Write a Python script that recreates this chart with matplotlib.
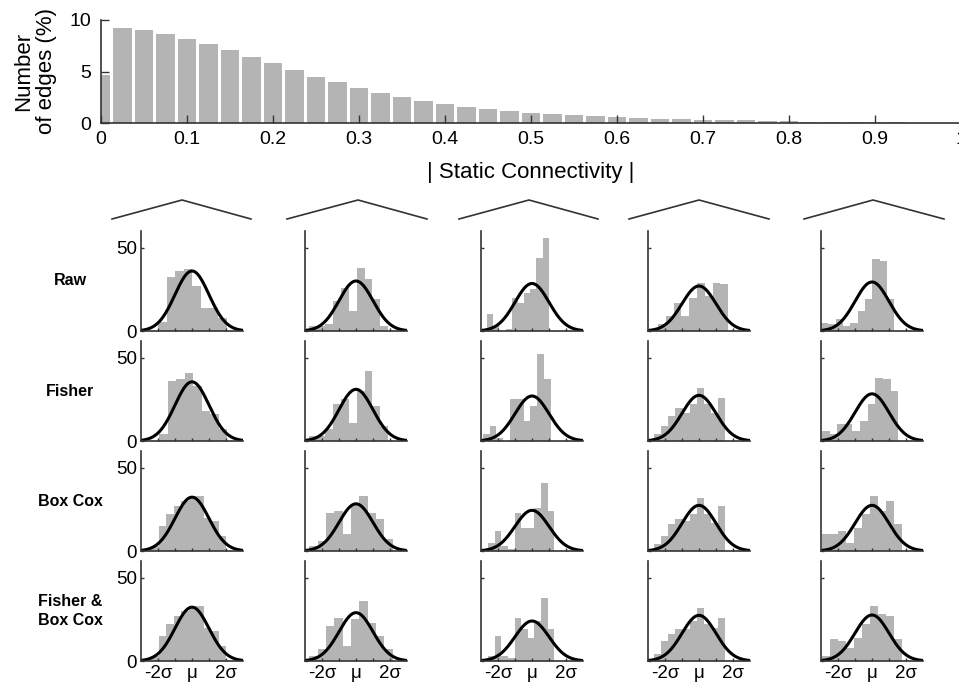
import numpy as np
import matplotlib
matplotlib.use('Agg')
import matplotlib.pyplot as plt

plt.rcParams['font.family'] = ['Liberation Sans', 'DejaVu Sans']

# ---- top panel: distribution of |static connectivity| (bins of 0.025)
conn_centers = np.round(np.arange(0, 1.0001, 0.025), 3)
conn_pct = [4.7, 9.2, 9.0, 8.65, 8.15, 7.65, 7.1, 6.4, 5.8, 5.15, 4.5, 3.95, 3.4,
            2.95, 2.55, 2.15, 1.85, 1.6, 1.35, 1.15, 1.0, 0.85, 0.75, 0.65, 0.58,
            0.48, 0.42, 0.38, 0.3, 0.26, 0.25, 0.19, 0.16, 0.13, 0.1, 0.08, 0.06,
            0.05, 0.04, 0.03, 0.02]
conn_ticks = [0, 0.1, 0.2, 0.3, 0.4, 0.5, 0.6, 0.7, 0.8, 0.9, 1]
conn_ticklabels = ['0', '0.1', '0.2', '0.3', '0.4', '0.5', '0.6', '0.7', '0.8', '0.9', '1']

# ---- small panels: rows = transform, cols = example edges
row_names = ['Raw', 'Fisher', 'Box Cox', 'Fisher &\nBox Cox']

# histogram range (in sigma units) and counts per panel
raw_lo = [-2.0, -2.75, -2.64, -2.88, -2.99]
raw_hi = [2.04, 1.90, 0.99, 1.72, 1.32]
raw_counts = [[5.6, 32.5, 35.9, 37.3, 26.8, 13.7, 13.7, 7.7],
              [3, 3, 4, 18, 26, 12, 38, 31, 19, 3],
              [10, 3, 0, 1.5, 20, 17, 23, 25, 44, 56],
              [1.5, 4.5, 9, 17, 9, 20, 29, 21, 29, 28],
              [5, 4, 7, 3, 5, 12, 19, 43, 42, 19]]
raw_peak = [36, 30, 28.5, 27, 29.4]

fisher_lo = [-1.92, -2.75, -2.9, -2.65, -2.95]
fisher_hi = [2.08, 1.9, 1.1, 1.55, 1.55]
fisher_counts = [[4, 36, 37, 41, 33, 18, 16, 7],
                 [3, 3, 7, 22, 25, 11, 30, 42, 21, 9],
                 [4, 9, 2, 0, 25, 25, 12, 21, 52, 37],
                 [4, 9, 15, 20, 17, 22, 32, 22, 17, 26],
                 [6, 4, 10, 10, 6, 12, 22, 38, 37, 30]]
fisher_peak = [35.5, 31, 27, 27.4, 28.3]

boxcox_lo = [-2.4, -2.75, -2.58, -2.65, -2.95]
boxcox_hi = [2.0, 2.16, 1.3, 1.55, 1.75]
boxcox_counts = [[3, 15, 22, 27, 30, 33, 33, 20, 18, 9],
                 [3, 6, 23, 24, 10, 28, 33, 23, 19, 7],
                 [5, 12, 3, 1, 23, 14, 14, 26, 41, 24],
                 [4, 9, 16, 19, 18, 22, 32, 22, 17, 27],
                 [10, 10, 12, 5, 14, 22, 33, 24, 30, 16]]
boxcox_peak = [32.3, 28.3, 24.4, 27.4, 27.4]

fb_lo = [-2.4, -2.75, -2.58, -2.65, -2.95]
fb_hi = [2.0, 2.16, 1.3, 1.55, 1.75]
fb_counts = [[3, 15, 22, 27, 30, 33, 33, 20, 18, 9],
             [3, 7, 21, 26, 9, 25, 36, 23, 15, 7],
             [3, 15, 3, 2, 26, 19, 14, 24, 38, 19],
             [4, 12, 16, 19, 19, 24, 32, 22, 20, 26],
             [3, 13, 12, 8, 14, 22, 33, 28, 27, 13]]
fb_peak = [32.3, 29, 24, 27.4, 27.6]

all_lo = [raw_lo, fisher_lo, boxcox_lo, fb_lo]
all_hi = [raw_hi, fisher_hi, boxcox_hi, fb_hi]
all_counts = [raw_counts, fisher_counts, boxcox_counts, fb_counts]
all_peak = [raw_peak, fisher_peak, boxcox_peak, fb_peak]

sig_ticks = [-2, -1, 0, 1, 2]
sig_ticklabels = ['-2σ', '', 'μ', '', '2σ']

# layout in pixels
W, H = 959, 683
col_left = [141, 305, 481, 648, 821]
row_top = [231, 341, 451, 561]
pw, ph = 102, 100
# "zoom" brackets above columns: (left, peak, right) x, plus y base / y peak
bracket_x = [(112, 182, 251), (287, 358, 427), (459, 529, 598), (629, 699, 769), (804, 873, 944)]
bracket_y = (219, 200)

GRAY = '#b4b4b4'
AXC = '#333333'

fig = plt.figure(figsize=(W / 100, H / 100), dpi=100)


def px_axes(x0, ytop, w, h):
    return fig.add_axes([x0 / W, 1 - (ytop + h) / H, w / W, h / H])


def matlab_look(ax, ticklen, fs):
    for s in ['top', 'right']:
        ax.spines[s].set_visible(False)
    for s in ['left', 'bottom']:
        ax.spines[s].set_color(AXC)
        ax.spines[s].set_linewidth(1.2)
    ax.tick_params(direction='in', length=ticklen, width=1, color=AXC,
                   labelsize=fs, labelcolor='black')


# top histogram
ax = px_axes(101, 20, 860, 103)
ax.bar(conn_centers, conn_pct, width=0.022, color=GRAY, linewidth=0)
ax.set_xlim(0, 1)
ax.set_ylim(0, 10)
ax.set_xticks(conn_ticks)
ax.set_xticklabels(conn_ticklabels)
ax.set_yticks([0, 5, 10])
matlab_look(ax, 5.5, 14)
ax.tick_params(axis='x', pad=6)
ax.tick_params(axis='y', pad=7)
ax.set_ylabel('Number\nof edges (%)', fontsize=16, linespacing=1.1)
ax.yaxis.set_label_coords(-0.051, 0.5)
ax.set_xlabel('| Static Connectivity |', fontsize=16)
ax.xaxis.set_label_coords(0.5, -0.38)

# small panels
xs = np.linspace(-3, 3, 300)
for r in range(4):
    for c in range(5):
        ax = px_axes(col_left[c], row_top[r], pw, ph)
        counts = all_counts[r][c]
        edges = np.linspace(all_lo[r][c], all_hi[r][c], len(counts) + 1)
        ax.bar(edges[:-1], counts, width=np.diff(edges), align='edge',
               color=GRAY, linewidth=0)
        ax.plot(xs, all_peak[r][c] * np.exp(-xs ** 2 / 2), color='black', lw=2.2)
        ax.set_xlim(-3, 3)
        ax.set_ylim(0, 60)
        ax.set_yticks([0, 50])
        ax.set_xticks(sig_ticks)
        matlab_look(ax, 2.5, 13.5)
        ax.tick_params(axis='y', pad=3)
        ax.tick_params(axis='x', pad=3)
        if c == 0:
            ax.set_yticklabels(['0', '50'])
        else:
            ax.set_yticklabels([])
        if r == 3:
            ax.set_xticklabels(sig_ticklabels)
        else:
            ax.set_xticklabels([])
    fig.text(70 / W, 1 - (row_top[r] + ph / 2) / H, row_names[r], ha='center',
             va='center', fontsize=11.5, fontweight='bold', linespacing=1.3)

# brackets linking the top panel to the columns
ov = fig.add_axes([0, 0, 1, 1])
ov.set_xlim(0, W)
ov.set_ylim(H, 0)
ov.axis('off')
for bx in bracket_x:
    ov.plot(bx, [bracket_y[0], bracket_y[1], bracket_y[0]], color=AXC, lw=1.2)

fig.savefig('out.png', dpi=100)
